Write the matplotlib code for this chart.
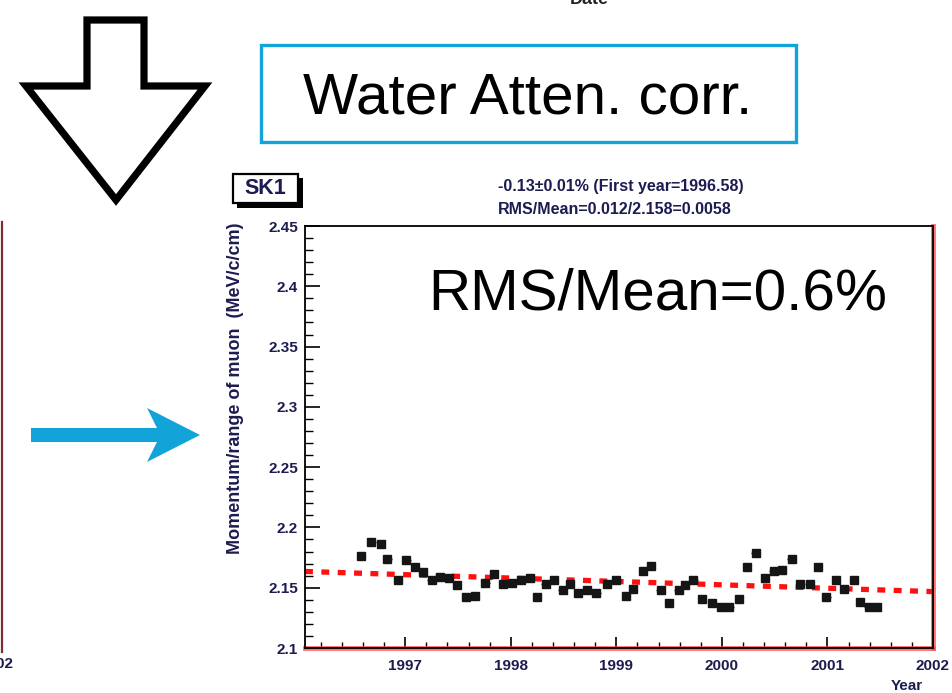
import matplotlib
matplotlib.use("Agg")
import matplotlib.pyplot as plt
from matplotlib.patches import Polygon, Rectangle
from matplotlib.ticker import MultipleLocator, FixedLocator

# canvas size in pixels (slide coordinates)
W, H = 952, 693

# monthly momentum/range points
years = [1996.58, 1996.68, 1996.77, 1996.83, 1996.93, 1997.01, 1997.09, 1997.17,
         1997.25, 1997.33, 1997.41, 1997.49, 1997.58, 1997.66, 1997.76, 1997.84,
         1997.93, 1998.01, 1998.10, 1998.18, 1998.25, 1998.33, 1998.41, 1998.49,
         1998.56, 1998.64, 1998.72, 1998.81, 1998.91, 1999.00, 1999.09, 1999.16,
         1999.25, 1999.33, 1999.42, 1999.50, 1999.59, 1999.65, 1999.73, 1999.81,
         1999.91, 1999.99, 2000.07, 2000.16, 2000.24, 2000.32, 2000.41, 2000.49,
         2000.57, 2000.66, 2000.74, 2000.83, 2000.91, 2000.99, 2001.08, 2001.16,
         2001.25, 2001.31, 2001.39, 2001.47]
values = [2.176, 2.188, 2.186, 2.174, 2.156, 2.173, 2.167, 2.163,
          2.156, 2.159, 2.158, 2.152, 2.142, 2.143, 2.154, 2.161,
          2.153, 2.154, 2.156, 2.158, 2.142, 2.153, 2.156, 2.148,
          2.153, 2.146, 2.148, 2.146, 2.153, 2.156, 2.143, 2.149,
          2.164, 2.168, 2.148, 2.137, 2.148, 2.152, 2.156, 2.141,
          2.137, 2.134, 2.134, 2.141, 2.167, 2.179, 2.158, 2.164,
          2.165, 2.174, 2.153, 2.153, 2.167, 2.142, 2.156, 2.149,
          2.156, 2.138, 2.134, 2.134]

# linear fit: -0.13 %/year from first year 1996.58
fit_first_year = 1996.58
fit_start = 2.162
fit_slope_pct = -0.13

year_ticks = [1997, 1998, 1999, 2000, 2001, 2002]
y_ticks = [2.1, 2.15, 2.2, 2.25, 2.3, 2.35, 2.4, 2.45]
y_tick_labels = ['2.1', '2.15', '2.2', '2.25', '2.3', '2.35', '2.4', '2.45']
x_range = (1996.05, 2002.0)
y_range = (2.1, 2.45)

BLUE = '#12a3d8'
NAVY = '#1c1c50'
plt.rcParams['font.family'] = ['Liberation Sans', 'DejaVu Sans']

fig = plt.figure(figsize=(9.52, 6.93), dpi=100)

# ---- ROOT style panel ----
ax = fig.add_axes([305 / W, 1 - 648 / H, 628 / W, 422 / H])
ax.set_xlim(*x_range)
ax.set_ylim(*y_range)

fit_x = [x_range[0], x_range[1]]
fit_y = [fit_start * (1 + fit_slope_pct / 100 * (x - fit_first_year)) for x in fit_x]
ax.plot(fit_x, fit_y, color='#ff1010', lw=3.8, dashes=(1.5, 1.6), zorder=3,
        solid_capstyle='butt')
ax.errorbar(years, values, xerr=0.04, fmt='s', ms=6, color='#151515',
            ecolor='#151515', elinewidth=1.0, capsize=0, zorder=4)

for side in ['top', 'left', 'right', 'bottom']:
    ax.spines[side].set_linewidth(1.3)
    ax.spines[side].set_zorder(5)
# reddish frame edge seen on bottom / right
ax.plot([0, 1], [0, 0], transform=ax.transAxes, color='#ff5050', lw=3.5,
        clip_on=False, zorder=2, alpha=0.8)
ax.plot([1, 1], [0, 1], transform=ax.transAxes, color='#ff5050', lw=3.5,
        clip_on=False, zorder=2, alpha=0.8)

ax.xaxis.set_major_locator(FixedLocator(year_ticks))
ax.xaxis.set_minor_locator(MultipleLocator(0.2))
ax.yaxis.set_major_locator(FixedLocator(y_ticks))
ax.yaxis.set_minor_locator(MultipleLocator(0.01))
ax.set_xticklabels([str(y) for y in year_ticks])
ax.set_yticklabels(y_tick_labels)
ax.tick_params(axis='x', which='major', direction='in', length=8, width=1.2,
               pad=8, labelsize=11, labelcolor=NAVY)
ax.tick_params(axis='x', which='minor', direction='in', length=4, width=1.0)
ax.tick_params(axis='y', which='major', direction='in', length=11, width=1.2,
               pad=5, labelsize=11, labelcolor=NAVY)
ax.tick_params(axis='y', which='minor', direction='in', length=5.5, width=1.0)
for lab in ax.get_xticklabels() + ax.get_yticklabels():
    lab.set_fontweight('bold')

# ---- slide decorations, drawn in pixel coordinates ----
bg = fig.add_axes([0, 0, 1, 1], zorder=5)
bg.patch.set_alpha(0)
bg.set_xlim(0, W)
bg.set_ylim(H, 0)
bg.axis('off')

# hollow down arrow
bg.add_patch(Polygon([(87, 20), (144, 20), (144, 86), (205, 86), (116, 200),
                      (26, 86), (87, 86)], closed=True, facecolor='white',
                     edgecolor='black', lw=5.2, joinstyle='miter'))

# blue right arrow
bg.add_patch(Polygon([(31, 428), (157, 428), (147, 408), (200, 435),
                      (147, 462), (157, 442), (31, 442)], closed=True,
                     facecolor=BLUE, edgecolor='none'))

# framed caption
bg.add_patch(Rectangle((261, 45), 535, 97, facecolor='white', edgecolor=BLUE,
                       lw=2.4))
bg.text(528, 114, 'Water Atten. corr.', fontsize=42, ha='center',
        va='baseline', color='black')

bg.text(428, 310, 'RMS/Mean=0.6%', fontsize=42, ha='left', va='baseline',
        color='black')

# cut-off neighbours of the slide
bg.text(589, -1, 'Date', fontsize=13, fontweight='bold', ha='center',
        va='center', color='#222222')
bg.plot([1.5, 1.5], [222, 652], color='#7a2e2e', lw=1.6)
bg.text(14, 664, '2002', fontsize=11, fontweight='bold', ha='right',
        va='center', color=NAVY)

# SK1 label box with shadow
bg.add_patch(Rectangle((237, 178), 66, 30, facecolor='black', edgecolor='none'))
bg.add_patch(Rectangle((233, 174), 65, 29, facecolor='white', edgecolor='black',
                       lw=1.6))
bg.text(265.5, 189, 'SK1', fontsize=15.5, fontweight='bold', ha='center',
        va='center', color=NAVY)

# fit summary lines
bg.text(498, 187, '-0.13\u00b10.01% (First year=1996.58)', fontsize=11.5,
        fontweight='bold', ha='left', va='center', color=NAVY)
bg.text(498, 210, 'RMS/Mean=0.012/2.158=0.0058', fontsize=11.5,
        fontweight='bold', ha='left', va='center', color=NAVY)

# axis titles (ROOT places them at the axis ends)
bg.text(236, 223, 'Momentum/range of muon  (MeV/c/cm)', fontsize=13,
        fontweight='bold', rotation=90, ha='center', va='top', color=NAVY)
bg.text(923, 686, 'Year', fontsize=11, fontweight='bold', ha='right',
        va='center', color=NAVY)

fig.savefig('out.png', dpi=100)
